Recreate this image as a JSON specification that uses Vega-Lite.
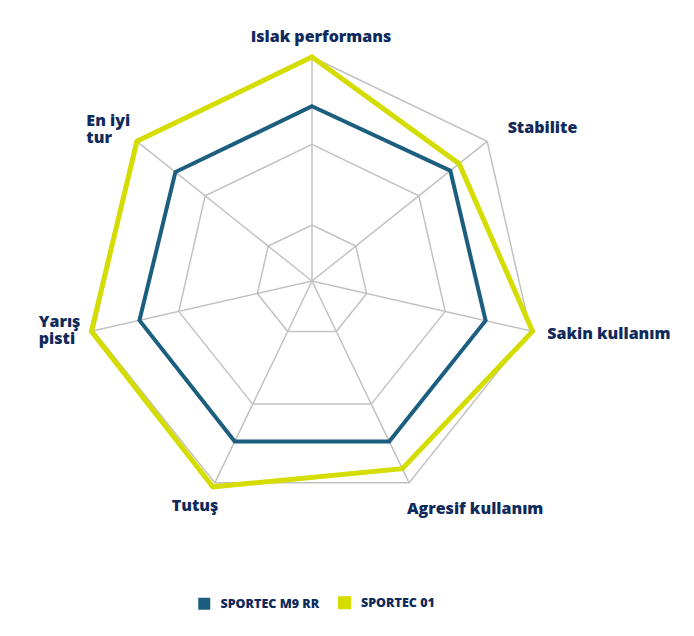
{
  "$schema": "https://vega.github.io/schema/vega-lite/v6.json",
  "width": 694,
  "height": 636,
  "autosize": "none",
  "padding": 0,
  "background": "white",
  "config": {"view": {"stroke": null}, "font": "Open Sans"},
  "datasets": {
    "series": [
      {"product": "SPORTEC M9 RR", "axis": "Islak performans", "i": 0, "value": 78},
      {"product": "SPORTEC M9 RR", "axis": "Stabilite", "i": 1, "value": 79},
      {"product": "SPORTEC M9 RR", "axis": "Sakin kullanım", "i": 2, "value": 79.5},
      {"product": "SPORTEC M9 RR", "axis": "Agresif kullanım", "i": 3, "value": 79.5},
      {"product": "SPORTEC M9 RR", "axis": "Tutuş", "i": 4, "value": 79.5},
      {"product": "SPORTEC M9 RR", "axis": "Yarış pisti", "i": 5, "value": 79},
      {"product": "SPORTEC M9 RR", "axis": "En iyi tur", "i": 6, "value": 78},
      {"product": "SPORTEC 01", "axis": "Islak performans", "i": 0, "value": 100},
      {"product": "SPORTEC 01", "axis": "Stabilite", "i": 1, "value": 84},
      {"product": "SPORTEC 01", "axis": "Sakin kullanım", "i": 2, "value": 101},
      {"product": "SPORTEC 01", "axis": "Agresif kullanım", "i": 3, "value": 93},
      {"product": "SPORTEC 01", "axis": "Tutuş", "i": 4, "value": 102},
      {"product": "SPORTEC 01", "axis": "Yarış pisti", "i": 5, "value": 101},
      {"product": "SPORTEC 01", "axis": "En iyi tur", "i": 6, "value": 100}
    ],
    "rings": [
      {"r": 25, "i": [0, 1, 2, 3, 4, 5, 6]},
      {"r": 61, "i": [0, 1, 2, 3, 4, 5, 6]},
      {"r": 100, "i": [0, 1, 2, 3, 4, 5, 6]}
    ],
    "axes": [
      {"i": 0, "label": "Islak performans"},
      {"i": 1, "label": "Stabilite"},
      {"i": 2, "label": "Sakin kullanım"},
      {"i": 3, "label": "Agresif kullanım"},
      {"i": 4, "label": "Tutuş"},
      {"i": 5, "label": "Yarış\npisti"},
      {"i": 6, "label": "En iyi\ntur"}
    ]
  },
  "layer": [
    {
      "data": {"name": "axes"},
      "transform": [
        {"calculate": "100 * sin(datum.i * 2 * PI / 7)", "as": "x"},
        {"calculate": "100 * cos(datum.i * 2 * PI / 7)", "as": "y"},
        {"calculate": "0", "as": "x0"},
        {"calculate": "0", "as": "y0"}
      ],
      "mark": {"type": "rule", "color": "#c2c2c2", "strokeWidth": 1.5},
      "encoding": {
        "x": {"field": "x", "type": "quantitative", "scale": {"domain": [-139.29, 170.54], "nice": false, "zero": false}, "axis": null},
        "y": {"field": "y", "type": "quantitative", "scale": {"domain": [-158.48, 125.45], "nice": false, "zero": false}, "axis": null},
        "x2": {"field": "x0"},
        "y2": {"field": "y0"}
      }
    },
    {
      "data": {"name": "rings"},
      "transform": [
        {"flatten": ["i"]},
        {"calculate": "datum.r * sin(datum.i * 2 * PI / 7)", "as": "x"},
        {"calculate": "datum.r * cos(datum.i * 2 * PI / 7)", "as": "y"}
      ],
      "mark": {"type": "line", "color": "#c2c2c2", "strokeWidth": 1.5, "interpolate": "linear-closed"},
      "encoding": {
        "x": {"field": "x", "type": "quantitative", "scale": {"domain": [-139.29, 170.54], "nice": false, "zero": false}, "axis": null},
        "y": {"field": "y", "type": "quantitative", "scale": {"domain": [-158.48, 125.45], "nice": false, "zero": false}, "axis": null},
        "detail": {"field": "r", "type": "nominal"},
        "order": {"field": "i", "type": "quantitative"}
      }
    },
    {
      "data": {"name": "series"},
      "transform": [
        {"calculate": "datum.value * sin(datum.i * 2 * PI / 7)", "as": "x"},
        {"calculate": "datum.value * cos(datum.i * 2 * PI / 7)", "as": "y"}
      ],
      "mark": {"type": "line", "interpolate": "linear-closed", "strokeJoin": "miter"},
      "encoding": {
        "x": {"field": "x", "type": "quantitative", "scale": {"domain": [-139.29, 170.54], "nice": false, "zero": false}, "axis": null},
        "y": {"field": "y", "type": "quantitative", "scale": {"domain": [-158.48, 125.45], "nice": false, "zero": false}, "axis": null},
        "order": {"field": "i", "type": "quantitative"},
        "strokeWidth": {"field": "product", "type": "nominal", "scale": {"domain": ["SPORTEC M9 RR", "SPORTEC 01"], "range": [4, 5]}, "legend": null},
        "color": {
          "field": "product",
          "type": "nominal",
          "scale": {"domain": ["SPORTEC M9 RR", "SPORTEC 01"], "range": ["#1b5e7f", "#d4dc00"]},
          "legend": {
            "orient": "none",
            "legendX": 198,
            "legendY": 596,
            "direction": "horizontal",
            "title": null,
            "symbolType": "square",
            "symbolSize": 64,
            "symbolStrokeWidth": 0,
            "labelFont": "Open Sans",
            "labelFontWeight": 800,
            "labelFontSize": 12.5,
            "labelColor": "#102a5c",
            "labelOffset": 10,
            "columnPadding": 10,
            "padding": 0,
            "encode": {"symbols": {"update": {"fill": {"scale": "color", "field": "value"}, "fillOpacity": {"value": 1}, "stroke": {"value": "transparent"}, "strokeWidth": {"value": 0}, "size": {"value": 64}}}}
          }
        }
      }
    },
    {
      "data": {"name": "axes"},
      "transform": [
        {"filter": "datum.i == 0"},
        {"calculate": "110 * sin(datum.i * 2 * PI / 7)", "as": "x"},
        {"calculate": "110 * cos(datum.i * 2 * PI / 7)", "as": "y"}
      ],
      "mark": {"type": "text", "align": "center", "baseline": "middle", "dx": 9, "dy": 2, "font": "Open Sans", "fontWeight": 800, "fontSize": 16, "color": "#102a5c", "lineBreak": "\n", "lineHeight": 17},
      "encoding": {
        "x": {"field": "x", "type": "quantitative", "scale": {"domain": [-139.29, 170.54], "nice": false, "zero": false}, "axis": null},
        "y": {"field": "y", "type": "quantitative", "scale": {"domain": [-158.48, 125.45], "nice": false, "zero": false}, "axis": null},
        "text": {"field": "label"}
      }
    },
    {
      "data": {"name": "axes"},
      "transform": [
        {"filter": "datum.i == 1"},
        {"calculate": "110 * sin(datum.i * 2 * PI / 7)", "as": "x"},
        {"calculate": "110 * cos(datum.i * 2 * PI / 7)", "as": "y"}
      ],
      "mark": {"type": "text", "align": "left", "baseline": "middle", "dx": 3, "dy": 1, "font": "Open Sans", "fontWeight": 800, "fontSize": 16, "color": "#102a5c", "lineBreak": "\n", "lineHeight": 17},
      "encoding": {
        "x": {"field": "x", "type": "quantitative", "scale": {"domain": [-139.29, 170.54], "nice": false, "zero": false}, "axis": null},
        "y": {"field": "y", "type": "quantitative", "scale": {"domain": [-158.48, 125.45], "nice": false, "zero": false}, "axis": null},
        "text": {"field": "label"}
      }
    },
    {
      "data": {"name": "axes"},
      "transform": [
        {"filter": "datum.i == 2"},
        {"calculate": "110 * sin(datum.i * 2 * PI / 7)", "as": "x"},
        {"calculate": "110 * cos(datum.i * 2 * PI / 7)", "as": "y"}
      ],
      "mark": {"type": "text", "align": "left", "baseline": "middle", "dx": -5, "dy": -2, "font": "Open Sans", "fontWeight": 800, "fontSize": 16, "color": "#102a5c", "lineBreak": "\n", "lineHeight": 17},
      "encoding": {
        "x": {"field": "x", "type": "quantitative", "scale": {"domain": [-139.29, 170.54], "nice": false, "zero": false}, "axis": null},
        "y": {"field": "y", "type": "quantitative", "scale": {"domain": [-158.48, 125.45], "nice": false, "zero": false}, "axis": null},
        "text": {"field": "label"}
      }
    },
    {
      "data": {"name": "axes"},
      "transform": [
        {"filter": "datum.i == 3"},
        {"calculate": "110 * sin(datum.i * 2 * PI / 7)", "as": "x"},
        {"calculate": "110 * cos(datum.i * 2 * PI / 7)", "as": "y"}
      ],
      "mark": {"type": "text", "align": "left", "baseline": "middle", "dx": -12, "dy": 6, "font": "Open Sans", "fontWeight": 800, "fontSize": 16, "color": "#102a5c", "lineBreak": "\n", "lineHeight": 17},
      "encoding": {
        "x": {"field": "x", "type": "quantitative", "scale": {"domain": [-139.29, 170.54], "nice": false, "zero": false}, "axis": null},
        "y": {"field": "y", "type": "quantitative", "scale": {"domain": [-158.48, 125.45], "nice": false, "zero": false}, "axis": null},
        "text": {"field": "label"}
      }
    },
    {
      "data": {"name": "axes"},
      "transform": [
        {"filter": "datum.i == 4"},
        {"calculate": "110 * sin(datum.i * 2 * PI / 7)", "as": "x"},
        {"calculate": "110 * cos(datum.i * 2 * PI / 7)", "as": "y"}
      ],
      "mark": {"type": "text", "align": "center", "baseline": "middle", "dx": -10, "dy": 3, "font": "Open Sans", "fontWeight": 800, "fontSize": 16, "color": "#102a5c", "lineBreak": "\n", "lineHeight": 17},
      "encoding": {
        "x": {"field": "x", "type": "quantitative", "scale": {"domain": [-139.29, 170.54], "nice": false, "zero": false}, "axis": null},
        "y": {"field": "y", "type": "quantitative", "scale": {"domain": [-158.48, 125.45], "nice": false, "zero": false}, "axis": null},
        "text": {"field": "label"}
      }
    },
    {
      "data": {"name": "axes"},
      "transform": [
        {"filter": "datum.i == 5"},
        {"calculate": "110 * sin(datum.i * 2 * PI / 7)", "as": "x"},
        {"calculate": "110 * cos(datum.i * 2 * PI / 7)", "as": "y"}
      ],
      "mark": {"type": "text", "align": "left", "baseline": "middle", "dx": -33, "dy": -14, "font": "Open Sans", "fontWeight": 800, "fontSize": 16, "color": "#102a5c", "lineBreak": "\n", "lineHeight": 17},
      "encoding": {
        "x": {"field": "x", "type": "quantitative", "scale": {"domain": [-139.29, 170.54], "nice": false, "zero": false}, "axis": null},
        "y": {"field": "y", "type": "quantitative", "scale": {"domain": [-158.48, 125.45], "nice": false, "zero": false}, "axis": null},
        "text": {"field": "label"}
      }
    },
    {
      "data": {"name": "axes"},
      "transform": [
        {"filter": "datum.i == 6"},
        {"calculate": "110 * sin(datum.i * 2 * PI / 7)", "as": "x"},
        {"calculate": "110 * cos(datum.i * 2 * PI / 7)", "as": "y"}
      ],
      "mark": {"type": "text", "align": "left", "baseline": "middle", "dx": -33, "dy": -6, "font": "Open Sans", "fontWeight": 800, "fontSize": 16, "color": "#102a5c", "lineBreak": "\n", "lineHeight": 17},
      "encoding": {
        "x": {"field": "x", "type": "quantitative", "scale": {"domain": [-139.29, 170.54], "nice": false, "zero": false}, "axis": null},
        "y": {"field": "y", "type": "quantitative", "scale": {"domain": [-158.48, 125.45], "nice": false, "zero": false}, "axis": null},
        "text": {"field": "label"}
      }
    }
  ]
}
